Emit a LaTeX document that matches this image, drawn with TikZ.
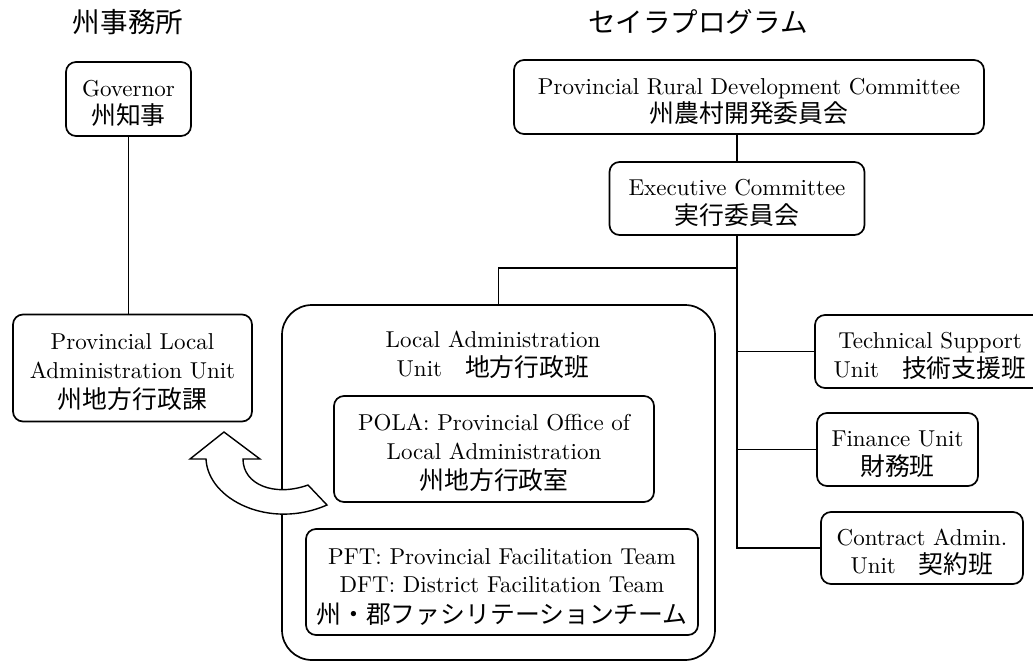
\documentclass[tikz,border=0pt]{standalone}
\usepackage{fontspec}
\setmainfont{lmroman10-regular.otf}
\newfontfamily\jp[Scale=1.08]{Noto Sans CJK JP}
\newcommand\lift{\rule{0pt}{25pt}}
\begin{document}
\begin{tikzpicture}[x=1pt, y=-1pt, line width=1.7pt,
  txt/.style={font=\fontsize{23}{28.5}\selectfont, align=center, inner sep=0pt},
  box/.style={txt, draw, rounded corners=10pt}]
\useasboundingbox (0,0) rectangle (1033,664);
% headings
\node[txt, font=\fontsize{25.5}{28}\selectfont] (hdoffice) at (128,22) {\jp 州事務所};
\node[txt, font=\fontsize{25.5}{28}\selectfont] (hdprog) at (698,22) {\jp セイラプログラム};
% provincial office
\node[box, minimum width=125, minimum height=74] (gov) at (128.5,99) {\lift Governor\\{\jp 州知事}};
\node[box, minimum width=239, minimum height=107] (plau) at (132.5,368) {\lift Provincial Local\\Administration Unit\\[2pt]{\jp 州地方行政課}};
% programme
\node[box, minimum width=470, minimum height=74] (prdc) at (749,97) {\lift Provincial Rural Development Committee\\{\jp 州農村開発委員会}};
\node[box, minimum width=255, minimum height=73] (exec) at (737,198.5) {\lift Executive Committee\\{\jp 実行委員会}};
\node[box, rounded corners=30pt, minimum width=433, minimum height=355] (lau) at (498.5,482.5) {};
\node[txt] (lautitle) at (493,355) {Local Administration\\Unit\quad{\jp 地方行政班}};
\node[box, minimum width=320, minimum height=106] (pola) at (494,449) {\lift POLA: Provincial Office of\\Local Administration\\[2pt]{\jp 州地方行政室}};
\node[box, minimum width=392, minimum height=106] (pft) at (502,582) {\lift PFT: Provincial Facilitation Team\\DFT: District Facilitation Team\\[2pt]{\jp 州・郡ファシリテーションチーム}};
\node[box, minimum width=230, minimum height=73] (tsu) at (930,351.5) {\lift Technical Support\\Unit\quad{\jp 技術支援班}};
\node[box, minimum width=161, minimum height=73] (fin) at (897.5,449.5) {\lift Finance Unit\\{\jp 財務班}};
\node[box, minimum width=202, minimum height=72] (con) at (922,548) {\lift Contract Admin.\\Unit\quad{\jp 契約班}};
% connectors
\draw (gov.south) -- (gov.south |- plau.north);
\draw (exec.north) -- (exec.north |- prdc.south);
\coordinate (split) at (737,268);
\draw (exec.south) -- (exec.south |- con.west) -- (con.west);
\draw (exec.south |- tsu.west) -- (tsu.west);
\draw (exec.south |- fin.west) -- (fin.west);
\draw (split) -| (lau.north);
% hand-over arrow
\draw[fill=white, line width=1.4pt] (224,432) -- (260,459) -- (243,459)
  .. controls (243,485) and (275,497) .. (308,485) -- (327,505)
  .. controls (270,530) and (208,500) .. (206,459) -- (190,459) -- cycle;
\end{tikzpicture}
\end{document}
